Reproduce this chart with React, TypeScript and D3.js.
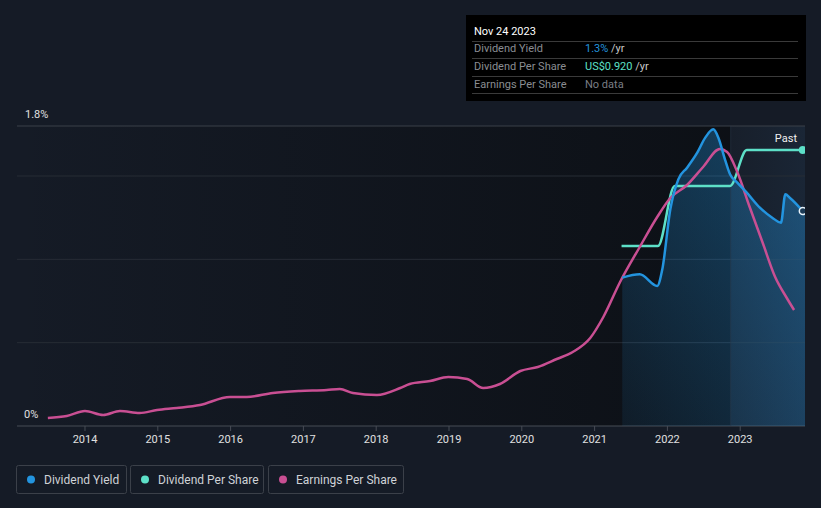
import React, { useEffect, useRef } from 'react';
import * as d3 from 'd3';

// decimal year, value
const yieldDates = [2021.38, 2021.62, 2021.86, 2021.93, 2022.04, 2022.15, 2022.27, 2022.41, 2022.52, 2022.63, 2022.7, 2022.79, 2022.86, 2022.96, 2023.09, 2023.27, 2023.44, 2023.56, 2023.62, 2023.68, 2023.86];
const yieldValues = [0.89, 0.91, 0.84, 0.94, 1.3, 1.48, 1.55, 1.64, 1.73, 1.78, 1.73, 1.6, 1.51, 1.46, 1.4, 1.31, 1.25, 1.22, 1.39, 1.37, 1.29];

const dpsDates = [2021.37, 2021.87, 2022.1, 2022.86, 2023.09, 2023.86];
const dpsValues = [0.6, 0.6, 0.8, 0.8, 0.92, 0.92];

const epsDates = [2013.49, 2013.75, 2014.0, 2014.25, 2014.48, 2014.75, 2014.99, 2015.26, 2015.58, 2015.99, 2016.22, 2016.58, 2016.95, 2017.32, 2017.5, 2017.68, 2018.01, 2018.33, 2018.46, 2018.74, 2018.99, 2019.25, 2019.47, 2019.7, 2019.98, 2020.22, 2020.48, 2020.7, 2020.94, 2021.12, 2021.35, 2021.62, 2021.86, 2022.04, 2022.27, 2022.49, 2022.72, 2022.82, 2022.96, 2023.13, 2023.31, 2023.48, 2023.64, 2023.74];
const epsValues = [0.08, 0.1, 0.15, 0.11, 0.15, 0.13, 0.16, 0.18, 0.21, 0.29, 0.29, 0.33, 0.35, 0.36, 0.37, 0.33, 0.31, 0.38, 0.42, 0.45, 0.49, 0.47, 0.38, 0.42, 0.55, 0.59, 0.67, 0.74, 0.88, 1.09, 1.44, 1.79, 2.09, 2.28, 2.41, 2.59, 2.77, 2.74, 2.54, 2.19, 1.83, 1.49, 1.28, 1.16];

const yearTicks = [2014, 2015, 2016, 2017, 2018, 2019, 2020, 2021, 2022, 2023];
const yieldTicks = [0, 0.5, 1.0, 1.5, 1.8];

const tooltipRows = [
  { label: 'Dividend Yield', value: '1.3%', unit: ' /yr', color: '#2394df' },
  { label: 'Dividend Per Share', value: 'US$0.920', unit: ' /yr', color: '#5de0c8' },
  { label: 'Earnings Per Share', value: 'No data', unit: '', color: '#7a7e85' },
];
const legendItems = [
  { label: 'Dividend Yield', color: '#2394df' },
  { label: 'Dividend Per Share', color: '#5de0c8' },
  { label: 'Earnings Per Share', color: '#c94f93' },
];

const W = 821;
const H = 508;
const BG = '#151b26';
const FONT = 'Roboto, "Noto Sans", sans-serif';

const App: React.FC = () => {
  const ref = useRef<SVGSVGElement | null>(null);

  useEffect(() => {
    document.body.style.margin = '0';
    document.body.style.background = BG;
    if (!ref.current) return;
    const svg = d3.select(ref.current);
    svg.selectAll('*').remove();

    const left = 17, right = 805, top = 126, bottom = 426;
    const x = d3.scaleLinear().domain([2013.066, 2023.89]).range([left, right]);
    const y = d3.scaleLinear().domain([0, 1.8]).range([bottom, top]);
    const yDps = d3.scaleLinear().domain([0, 1.0]).range([bottom, top]);
    const yEps = d3.scaleLinear().domain([0, 3.0]).range([bottom, top]);
    const pastStart = 2022.87;

    svg.append('rect').attr('width', W).attr('height', H).attr('fill', BG);

    const defs = svg.append('defs');
    const bgGrad = defs.append('linearGradient').attr('id', 'plotbg').attr('x1', 0).attr('x2', 1).attr('y1', 0).attr('y2', 0);
    bgGrad.append('stop').attr('offset', '0%').attr('stop-color', '#0b0e13').attr('stop-opacity', 0);
    bgGrad.append('stop').attr('offset', '100%').attr('stop-color', '#0b0e13').attr('stop-opacity', 0.85);
    const fillGrad = defs.append('linearGradient').attr('id', 'fillgrad')
      .attr('x1', 0).attr('y1', 1).attr('x2', 1).attr('y2', 0);
    fillGrad.append('stop').attr('offset', '0%').attr('stop-color', '#2394df').attr('stop-opacity', 0.08);
    fillGrad.append('stop').attr('offset', '100%').attr('stop-color', '#2394df').attr('stop-opacity', 0.42);
    const pastGrad = defs.append('linearGradient').attr('id', 'pastgrad').attr('x1', 0).attr('x2', 1).attr('y1', 0).attr('y2', 0);
    pastGrad.append('stop').attr('offset', '0%').attr('stop-color', '#18202c').attr('stop-opacity', 0.8);
    pastGrad.append('stop').attr('offset', '100%').attr('stop-color', '#1a2636').attr('stop-opacity', 1);
    defs.append('clipPath').attr('id', 'plotclip').append('rect')
      .attr('x', left).attr('y', top - 10).attr('width', right - left).attr('height', bottom - top + 10);

    // plot background
    svg.append('rect').attr('x', left).attr('y', top).attr('width', x(pastStart) - left).attr('height', bottom - top).attr('fill', 'url(#plotbg)');
    svg.append('rect').attr('x', x(pastStart)).attr('y', top).attr('width', right - x(pastStart)).attr('height', bottom - top).attr('fill', 'url(#pastgrad)');

    // gridlines
    svg.append('g').selectAll('line').data(yieldTicks).enter().append('line')
      .attr('x1', left).attr('x2', right)
      .attr('y1', d => y(d)).attr('y2', d => y(d))
      .attr('stroke', d => (d === 1.8 ? '#3b4049' : d === 0 ? '#474c55' : '#272c35'))
      .attr('stroke-width', 1);

    // y labels
    svg.append('text').attr('x', 25).attr('y', y(1.8) - 8).text('1.8%')
      .attr('fill', '#e0e0e0').attr('font-size', 11).attr('font-family', FONT);
    svg.append('text').attr('x', 24).attr('y', y(0) - 8).text('0%')
      .attr('fill', '#e0e0e0').attr('font-size', 11).attr('font-family', FONT);

    // x ticks
    const xt = svg.append('g');
    xt.selectAll('line').data(yearTicks).enter().append('line')
      .attr('x1', d => x(d)).attr('x2', d => x(d)).attr('y1', bottom).attr('y2', bottom + 5)
      .attr('stroke', '#474c55');
    xt.selectAll('text').data(yearTicks).enter().append('text')
      .attr('x', d => x(d)).attr('y', 443).attr('text-anchor', 'middle')
      .attr('fill', '#e0e0e0').attr('font-size', 11).attr('font-family', FONT)
      .text(d => String(d));

    const plot = svg.append('g').attr('clip-path', 'url(#plotclip)');

    // dividend yield area
    const yieldData = yieldDates.map((d, i) => ({ x: d, v: yieldValues[i] }));
    const areaData = [...yieldData, { x: 2023.89, v: yieldValues[yieldValues.length - 1] - 0.02 }];
    plot.append('path').datum(areaData)
      .attr('fill', 'url(#fillgrad)')
      .attr('d', d3.area<{ x: number; v: number }>().x(d => x(d.x)).y0(bottom).y1(d => y(d.v)).curve(d3.curveMonotoneX));

    // past line divider
    plot.append('line').attr('x1', x(pastStart)).attr('x2', x(pastStart)).attr('y1', top).attr('y2', bottom)
      .attr('stroke', '#2a3a4d').attr('stroke-width', 1).attr('opacity', 0.5);

    // dps
    const dpsData = dpsDates.map((d, i) => ({ x: d, v: dpsValues[i] }));
    plot.append('path').datum(dpsData)
      .attr('fill', 'none').attr('stroke', '#5de0c8').attr('stroke-width', 2.5)
      .attr('d', d3.line<{ x: number; v: number }>().x(d => x(d.x)).y(d => yDps(d.v)).curve(d3.curveMonotoneX));

    // eps
    const epsData = epsDates.map((d, i) => ({ x: d, v: epsValues[i] }));
    plot.append('path').datum(epsData)
      .attr('fill', 'none').attr('stroke', '#c94f93').attr('stroke-width', 2.5)
      .attr('d', d3.line<{ x: number; v: number }>().x(d => x(d.x)).y(d => yEps(d.v)).curve(d3.curveMonotoneX));

    // yield line
    plot.append('path').datum(yieldData)
      .attr('fill', 'none').attr('stroke', '#2394df').attr('stroke-width', 2.5)
      .attr('d', d3.line<{ x: number; v: number }>().x(d => x(d.x)).y(d => y(d.v)).curve(d3.curveMonotoneX));

    // end dots
    const lastDps = dpsData[dpsData.length - 1];
    plot.append('circle').attr('cx', x(lastDps.x)).attr('cy', yDps(lastDps.v)).attr('r', 4)
      .attr('fill', '#5de0c8');
    const lastY = yieldData[yieldData.length - 1];
    plot.append('circle').attr('cx', x(lastY.x)).attr('cy', y(lastY.v)).attr('r', 3.5)
      .attr('fill', '#1b3a55').attr('stroke', '#e8f2fa').attr('stroke-width', 1.5);

    svg.append('text').attr('x', 797).attr('y', 142).attr('text-anchor', 'end')
      .attr('fill', '#f0f0f0').attr('font-size', 11).attr('font-family', FONT).text('Past');

    // tooltip
    const tip = svg.append('g');
    tip.append('rect').attr('x', 466).attr('y', 15).attr('width', 340).attr('height', 86).attr('fill', '#000');
    tip.append('text').attr('x', 474).attr('y', 35).text('Nov 24 2023')
      .attr('fill', '#fff').attr('font-size', 11).attr('font-family', FONT);
    const rowY = [52, 70, 88];
    [41, 58, 76, 93].forEach(ly => {
      tip.append('line').attr('x1', 472).attr('x2', 798).attr('y1', ly + 0.5).attr('y2', ly + 0.5)
        .attr('stroke', '#3a3a3a');
    });
    tooltipRows.forEach((r, i) => {
      tip.append('text').attr('x', 474).attr('y', rowY[i]).text(r.label)
        .attr('fill', '#8a8d92').attr('font-size', 11).attr('font-family', FONT);
      const t = tip.append('text').attr('x', 585).attr('y', rowY[i])
        .attr('font-size', 11).attr('font-family', FONT);
      t.append('tspan').attr('fill', r.color).text(r.value);
      if (r.unit) t.append('tspan').attr('fill', '#c8c8c8').text(r.unit);
    });

    // legend
    const boxes = [{ x: 16, w: 110 }, { x: 130, w: 133 }, { x: 268, w: 135 }];
    legendItems.forEach((it, i) => {
      const b = boxes[i];
      const g = svg.append('g');
      g.append('rect').attr('x', b.x + 0.5).attr('y', 465.5).attr('width', b.w).attr('height', 28)
        .attr('rx', 2).attr('fill', 'none').attr('stroke', '#3b4049');
      g.append('circle').attr('cx', b.x + 15).attr('cy', 479.5).attr('r', 4).attr('fill', it.color);
      g.append('text').attr('x', b.x + 28).attr('y', 484).text(it.label)
        .attr('fill', '#cfd2d6').attr('font-size', 12).attr('font-family', FONT);
    });
  }, []);

  return <svg ref={ref} width={W} height={H} style={{ display: 'block' }} />;
};

export default App;
